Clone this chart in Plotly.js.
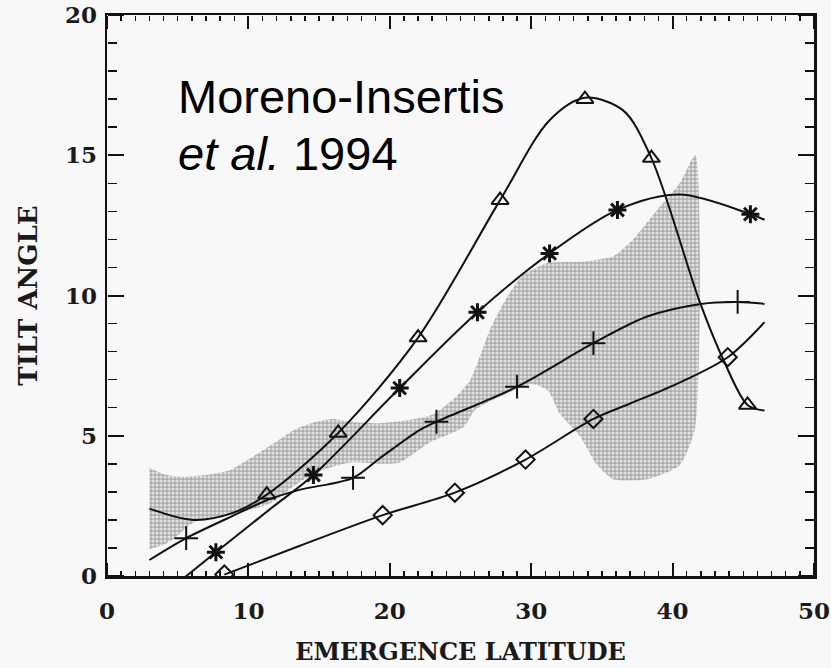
<!DOCTYPE html>
<html>
<head>
<meta charset="utf-8">
<script src="https://cdn.plot.ly/plotly-3.0.1.min.js"></script>
<style>
  html, body { margin: 0; padding: 0; background: #f8f8f8; }
  #chart { width: 831px; height: 668px; }
</style>
</head>
<body>
<div id="chart"></div>
<script>
// ---- Data ----
// Shaded (stippled) band: upper edge left->right, lower edge right->left
const bandUpperX = [3.0, 4.2, 5.4, 7.0, 8.7, 10.3, 11.8, 13.2, 14.8, 16.0, 17.2, 19.3, 21.2, 23.0, 24.5, 25.7, 27.1, 28.3, 29.4, 31.1, 33.5, 35.8, 37.2, 38.9, 40.5, 41.6];
const bandUpperY = [3.85, 3.6, 3.54, 3.6, 3.78, 4.25, 4.73, 5.2, 5.5, 5.6, 5.5, 5.45, 5.55, 5.75, 6.3, 7.0, 8.8, 9.95, 10.7, 11.15, 11.2, 11.4, 12.0, 13.05, 14.0, 15.0];
const bandLowerX = [41.6, 40.5, 38.2, 35.8, 34.6, 33.5, 32.0, 31.2, 30.0, 28.5, 27.0, 26.0, 25.2, 22.8, 20.7, 19.3, 17.2, 14.8, 13.2, 11.6, 9.0, 6.1, 4.9, 4.2, 3.0];
const bandLowerY = [5.3, 3.95, 3.45, 3.45, 4.0, 4.95, 5.8, 6.6, 6.85, 6.55, 6.2, 5.9, 5.3, 4.75, 4.05, 4.0, 4.05, 3.7, 3.2, 2.6, 2.2, 1.9, 1.4, 1.16, 0.95];

// Triangle series
const triCurveX = [3.0, 6.1, 8.9, 11.3, 16.35, 22.0, 27.8, 31.3, 33.8, 36.5, 38.5, 41.9, 43.6, 45.3, 46.5];
const triCurveY = [2.4, 2.0, 2.25, 2.9, 5.1, 8.5, 13.4, 16.25, 17.05, 16.6, 14.9, 9.8, 7.7, 6.1, 5.9];
const triX = [11.3, 16.35, 22.0, 27.8, 33.8, 38.5, 45.3];
const triY = [2.9, 5.1, 8.5, 13.4, 17.0, 14.9, 6.1];

// Asterisk series
const astCurveX = [5.0, 7.7, 11.7, 14.6, 20.7, 26.2, 31.3, 36.1, 40.5, 45.5, 46.5];
const astCurveY = [-0.25, 0.85, 2.45, 3.6, 6.7, 9.4, 11.5, 13.05, 13.6, 12.9, 12.7];
const astX = [7.7, 14.6, 20.7, 26.2, 31.3, 36.1, 45.5];
const astY = [0.85, 3.6, 6.7, 9.4, 11.5, 13.05, 12.9];

// Plus series
const plusCurveX = [3.0, 5.6, 8.5, 11.3, 13.6, 17.4, 19.3, 22.1, 23.3, 29.0, 34.4, 38.2, 42.0, 44.6, 46.5];
const plusCurveY = [0.57, 1.35, 2.05, 2.7, 3.07, 3.5, 4.2, 5.2, 5.5, 6.75, 8.3, 9.25, 9.7, 9.77, 9.7];
const plusX = [5.6, 17.4, 23.3, 29.0, 34.4, 44.6];
const plusY = [1.35, 3.5, 5.5, 6.75, 8.3, 9.77];

// Diamond series
const diaCurveX = [8.3, 13.6, 19.5, 24.6, 29.6, 34.4, 37.0, 40.3, 43.9, 46.5];
const diaCurveY = [0.05, 1.07, 2.17, 2.97, 4.15, 5.6, 6.15, 6.85, 7.8, 9.05];
const diaX = [8.3, 19.5, 24.6, 29.6, 34.4, 43.9];
const diaY = [0.05, 2.17, 2.97, 4.15, 5.6, 7.8];

const xTickVals = [0, 10, 20, 30, 40, 50];
const yTickVals = [0, 5, 10, 15, 20];
const xMinorStep = 1;
const yMinorStep = 1;

const xRange = [xTickVals[0], xTickVals[xTickVals.length - 1]];
const yRange = [yTickVals[0], yTickVals[yTickVals.length - 1]];
const xMajorStep = xTickVals[1] - xTickVals[0];
const yMajorStep = yTickVals[1] - yTickVals[0];

// ---- Traces ----
const lineStyle = {color: '#111', width: 2, shape: 'spline', smoothing: 0.9};
const traces = [
  {
    x: bandUpperX.concat(bandLowerX),
    y: bandUpperY.concat(bandLowerY),
    mode: 'lines', fill: 'toself',
    line: {width: 0, color: 'rgba(0,0,0,0)', shape: 'spline', smoothing: 0.6},
    fillcolor: '#c4c4c4',
    fillpattern: {shape: '.', fgcolor: '#e2e2e2', bgcolor: '#acacac', size: 4, solidity: 0.5},
    hoverinfo: 'skip'
  },
  {x: triCurveX, y: triCurveY, mode: 'lines', line: lineStyle},
  {x: astCurveX, y: astCurveY, mode: 'lines', line: lineStyle},
  {x: plusCurveX, y: plusCurveY, mode: 'lines', line: lineStyle},
  {x: diaCurveX, y: diaCurveY, mode: 'lines', line: lineStyle},
  {x: triX, y: triY, mode: 'markers',
   marker: {symbol: 'triangle-up-open', size: 15, color: '#111', line: {width: 2, color: '#111'}}},
  {x: astX, y: astY, mode: 'markers',
   marker: {symbol: 'asterisk-open', size: 15, color: '#111', line: {width: 3, color: '#111'}}},
  {x: plusX, y: plusY, mode: 'markers',
   marker: {symbol: 'cross-thin-open', size: 17, color: '#111', line: {width: 2, color: '#111'}}},
  {x: diaX, y: diaY, mode: 'markers',
   marker: {symbol: 'diamond-open', size: 14, color: '#111', line: {width: 2, color: '#111'}}}
];
// empty traces that attach the tick-only helper axes
['2', '3', '4', '5'].forEach(function (n) {
  traces.push({x: [], y: [], xaxis: 'x' + n, yaxis: 'y' + n, mode: 'markers', hoverinfo: 'skip', showlegend: false});
});

const tickFont = {family: 'DejaVu Serif', size: 23, color: '#1a1a1a', weight: 'bold'};
const titleFont = {family: 'DejaVu Serif', size: 24, color: '#1a1a1a', weight: 'bold'};

// Tick-only helper axis: placed on the opposite edge with outward ticks,
// so its ticks point into the plotting area (inside ticks of the frame).
function tickAxis(range, step, len, width, overlay, side, position) {
  return {
    range: range, tickmode: 'linear', tick0: range[0], dtick: step,
    ticks: 'outside', ticklen: len, tickwidth: width, tickcolor: '#111',
    showticklabels: false, showgrid: false, zeroline: false, showline: false,
    overlaying: overlay, anchor: 'free', side: side, position: position
  };
}

const layout = {
  width: 831, height: 668,
  margin: {l: 107, r: 17, t: 15, b: 92},
  paper_bgcolor: '#f8f8f8', plot_bgcolor: '#f8f8f8',
  showlegend: false,
  xaxis: {
    range: xRange, tickmode: 'linear', tick0: xTickVals[0], dtick: xMajorStep,
    ticks: '', showline: true, linecolor: '#111', linewidth: 2.5, mirror: true,
    showgrid: false, zeroline: false, tickfont: tickFont, ticklabelstandoff: 13,
    title: {text: 'EMERGENCE LATITUDE', font: titleFont, standoff: 20}
  },
  yaxis: {
    range: yRange, tickmode: 'linear', tick0: yTickVals[0], dtick: yMajorStep,
    ticks: '', showline: true, linecolor: '#111', linewidth: 2.5, mirror: true,
    showgrid: false, zeroline: false, tickfont: tickFont, ticklabelstandoff: 3,
    title: {text: 'TILT ANGLE', font: {family: 'DejaVu Serif', size: 26, color: '#1a1a1a', weight: 'bold'}, standoff: 20}
  },
  // bottom edge (ticks point up) and top edge (ticks point down)
  xaxis2: tickAxis(xRange, xMajorStep, 13, 2, 'x', 'top', 0),
  xaxis3: tickAxis(xRange, xMinorStep, 5, 1.5, 'x', 'top', 0),
  xaxis4: tickAxis(xRange, xMajorStep, 13, 2, 'x', 'bottom', 1),
  xaxis5: tickAxis(xRange, xMinorStep, 5, 1.5, 'x', 'bottom', 1),
  // left edge (ticks point right) and right edge (ticks point left)
  yaxis2: tickAxis(yRange, yMajorStep, 16, 2, 'y', 'right', 0),
  yaxis3: tickAxis(yRange, yMinorStep, 9, 1.5, 'y', 'right', 0),
  yaxis4: tickAxis(yRange, yMajorStep, 16, 2, 'y', 'left', 1),
  yaxis5: tickAxis(yRange, yMinorStep, 9, 1.5, 'y', 'left', 1),
  annotations: [
    {xref: 'paper', yref: 'paper', x: 0.097, y: 0.8556, xanchor: 'left', yanchor: 'middle',
     text: 'Moreno-Insertis', showarrow: false,
     font: {family: 'Liberation Sans', size: 47, color: '#000'}},
    {xref: 'paper', yref: 'paper', x: 0.097, y: 0.754, xanchor: 'left', yanchor: 'middle',
     text: '<i>et al.</i> 1994', showarrow: false,
     font: {family: 'Liberation Sans', size: 47, color: '#000'}}
  ]
};

Plotly.newPlot('chart', traces, layout, {displayModeBar: false, staticPlot: true});
</script>
</body>
</html>
